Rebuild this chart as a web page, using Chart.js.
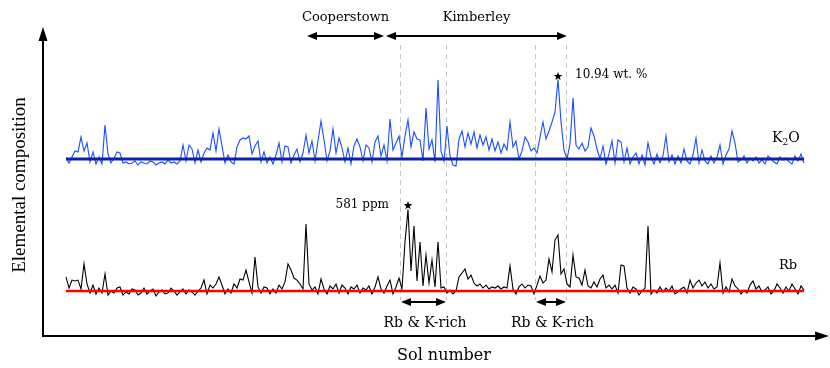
<!DOCTYPE html>
<html>
<head>
<meta charset="utf-8">
<script src="https://cdn.jsdelivr.net/npm/chart.js@4/dist/chart.umd.min.js"></script>
<style>
html, body { margin: 0; padding: 0; background: #fff; }
#wrap { width: 830px; height: 368px; }
</style>
</head>
<body>
<div id="wrap"><canvas id="chart" width="830" height="368"></canvas></div>
<script>
// one reading every third sol
var SOL_FIRST = 0;
var SOL_STEP = 3;

// K2O, wt. %
var k2o = [
  1.13,0.5,1.25,2.0,1.88,3.75,2.0,3.0,0.63,1.88,
  0.38,1.25,0.38,5.25,1.63,0.5,1.13,1.88,1.75,0.5,
  0.63,0.38,0.5,0.75,0.25,0.63,0.5,0.38,0.75,0.63,
  0.25,0.5,0.63,0.38,0.88,0.5,0.63,0.38,0.75,2.75,
  0.75,2.75,2.25,0.5,2.13,0.63,1.75,2.38,2.13,4.25,
  2.0,4.75,2.63,0.5,1.5,0.63,0.38,2.5,3.38,3.63,
  3.5,3.88,1.63,2.63,3.25,0.63,1.88,0.5,1.25,0.38,
  1.5,3.0,0.63,2.63,2.5,0.5,1.5,2.25,0.63,1.75,
  4.0,1.75,3.25,0.75,3.25,5.75,3.38,0.75,2.0,4.75,
  1.75,3.63,2.38,0.63,2.38,0.38,2.63,3.5,2.5,0.75,
  2.75,2.38,0.63,3.13,3.88,1.38,2.75,0.75,6.0,2.13,
  3.0,3.88,1.25,3.88,5.88,2.5,4.38,3.5,3.38,0.75,
  7.38,2.25,3.38,0.63,10.88,2.0,0.75,5.13,1.38,0.25,
  0.13,3.5,4.5,2.5,4.25,2.88,4.38,2.38,4.0,2.75,
  3.75,2.13,3.5,2.0,3.13,1.75,2.88,2.13,5.63,2.5,
  3.25,1.0,2.0,3.75,3.13,2.0,2.38,1.75,3.75,5.63,
  3.5,4.5,5.63,6.88,10.94,5.63,2.13,1.0,2.88,8.63,
  2.75,2.25,3.0,2.0,2.5,4.88,3.88,2.25,1.0,2.63,
  0.38,1.63,3.25,0.5,3.38,3.13,0.63,2.38,0.38,1.25,
  1.75,0.38,1.5,0.25,3.0,1.25,0.38,1.63,0.5,1.38,
  3.88,0.63,1.5,0.38,1.38,0.5,2.25,0.75,0.38,1.5,
  3.63,0.5,2.13,0.75,0.38,1.38,0.5,1.25,2.75,0.38,
  1.5,2.25,4.5,3.0,0.63,0.88,1.38,0.5,1.13,0.75,
  1.25,0.5,0.88,0.38,1.38,1.0,0.63,0.38,1.25,0.88,
  1.13,0.63,0.38,1.38,0.75,1.63,0.5
];

// Rb, ppm
var rb = [
  150,79,130,124,130,73,233,105,47,98,
  41,79,47,169,34,60,47,79,86,34,
  54,41,73,66,34,47,79,41,60,73,
  28,54,66,41,47,79,60,34,54,73,
  41,66,54,34,60,79,130,41,98,79,
  105,150,98,41,73,47,105,79,137,130,
  194,118,47,278,86,47,86,79,41,73,
  47,98,73,118,233,194,143,130,105,73,
  489,105,66,86,41,137,73,41,92,73,
  105,47,98,79,41,86,73,98,47,79,
  66,92,41,86,150,73,47,92,130,41,
  86,143,73,374,581,188,476,124,374,92,
  290,111,258,86,374,79,86,47,66,41,
  60,150,175,201,137,162,111,92,105,79,
  98,73,86,79,92,73,86,79,220,73,
  41,86,105,79,98,92,41,98,156,111,
  130,265,182,386,418,169,201,105,86,290,
  150,143,98,194,92,79,118,86,137,162,
  79,98,73,98,47,226,220,79,47,86,
  73,34,60,79,476,41,66,47,86,54,
  79,60,92,41,54,73,86,47,130,79,
  111,130,92,118,79,105,73,86,239,47,
  86,54,137,92,73,41,66,47,98,124,
  73,92,54,66,86,41,60,105,79,47,
  86,60,105,73,41,92,66
];

var K2O_MEAN = 1.0;
var RB_MEAN = 60;

// field campaigns along the traverse (sols)
var campaigns = [
  {name: 'Cooperstown', from: 241, to: 318},
  {name: 'Kimberley', from: 320, to: 501}
];
// Rb & K-rich intervals, also marked with dashed lines
var richZones = [[334, 380], [469, 500]];
var richLabel = 'Rb & K-rich';

var sols = k2o.map(function(v, i) { return SOL_FIRST + i * SOL_STEP; });

function toPoints(values) {
  return values.map(function(v, i) { return {x: sols[i], y: v}; });
}

function meanLine(value) {
  return [{x: sols[0], y: value}, {x: sols[sols.length - 1], y: value}];
}

function argMax(values) {
  var best = 0;
  for (var i = 1; i < values.length; i++) {
    if (values[i] > values[best]) best = i;
  }
  return best;
}

function star(ctx, cx, cy, r) {
  ctx.beginPath();
  for (var k = 0; k < 10; k++) {
    var rad = k % 2 ? r * 0.42 : r;
    var a = -Math.PI / 2 + k * Math.PI / 5;
    ctx.lineTo(cx + rad * Math.cos(a), cy + rad * Math.sin(a));
  }
  ctx.closePath();
  ctx.fill();
}

function arrowHead(ctx, tipX, tipY, dx, dy, len, half) {
  // dx, dy: unit direction the arrow points to
  ctx.beginPath();
  ctx.moveTo(tipX, tipY);
  ctx.lineTo(tipX - dx * len - dy * half, tipY - dy * len + dx * half);
  ctx.lineTo(tipX - dx * len + dy * half, tipY - dy * len - dx * half);
  ctx.closePath();
  ctx.fill();
}

function doubleArrow(ctx, x1, x2, y) {
  ctx.beginPath();
  ctx.moveTo(x1 + 6, y);
  ctx.lineTo(x2 - 6, y);
  ctx.stroke();
  arrowHead(ctx, x1, y, -1, 0, 10, 4);
  arrowHead(ctx, x2, y, 1, 0, 10, 4);
}

var SERIF = '"DejaVu Serif", serif';

var decorations = {
  id: 'decorations',
  beforeDatasetsDraw: function(chart) {
    var ctx = chart.ctx, xs = chart.scales.x;
    ctx.save();
    ctx.strokeStyle = '#c4c4c4';
    ctx.lineWidth = 1;
    ctx.setLineDash([5, 4]);
    richZones.forEach(function(z) {
      z.forEach(function(sol) {
        var px = Math.round(xs.getPixelForValue(sol)) + 0.5;
        ctx.beginPath();
        ctx.moveTo(px, 45);
        ctx.lineTo(px, 300);
        ctx.stroke();
      });
    });
    ctx.restore();
  },
  afterDraw: function(chart) {
    var ctx = chart.ctx, area = chart.chartArea;
    var xs = chart.scales.x, yK = chart.scales.yK, yRb = chart.scales.yRb;
    ctx.save();
    ctx.fillStyle = '#000';
    ctx.strokeStyle = '#000';

    // axes with arrow heads
    ctx.lineWidth = 2;
    ctx.beginPath();
    ctx.moveTo(area.left, 38);
    ctx.lineTo(area.left, area.bottom);
    ctx.lineTo(area.right - 2, area.bottom);
    ctx.stroke();
    arrowHead(ctx, area.left, 27, 0, -1, 14, 4.5);
    arrowHead(ctx, area.right + 4, area.bottom, 1, 0, 14, 4.5);

    // campaign arrows
    ctx.lineWidth = 2;
    ctx.font = '13px ' + SERIF;
    ctx.textAlign = 'center';
    campaigns.forEach(function(c) {
      var a = xs.getPixelForValue(c.from), b = xs.getPixelForValue(c.to);
      doubleArrow(ctx, a, b, 36);
      ctx.fillText(c.name, (a + b) / 2, 21);
    });

    // enriched zones
    ctx.font = '14px ' + SERIF;
    richZones.forEach(function(z) {
      var a = xs.getPixelForValue(z[0]), b = xs.getPixelForValue(z[1]);
      doubleArrow(ctx, a + 1, b, 302);
      ctx.fillText(richLabel, (a + b) / 2 + 2, 327);
    });

    // maxima
    var ik = argMax(k2o), ir = argMax(rb);
    var kx = xs.getPixelForValue(sols[ik]), ky = yK.getPixelForValue(k2o[ik]);
    var rx = xs.getPixelForValue(sols[ir]), ry = yRb.getPixelForValue(rb[ir]);
    star(ctx, kx, ky - 3, 4.5);
    star(ctx, rx, ry - 4, 4.5);
    ctx.font = '12px ' + SERIF;
    ctx.textAlign = 'left';
    ctx.fillText(k2o[ik].toFixed(2) + ' wt. %', kx + 17, ky - 1);
    ctx.textAlign = 'right';
    ctx.fillText(rb[ir] + ' ppm', rx - 19, ry - 2);

    // series names
    ctx.textAlign = 'left';
    ctx.font = '14px ' + SERIF;
    ctx.fillText('K', 772, 142);
    var kw = ctx.measureText('K').width;
    ctx.font = '9px ' + SERIF;
    ctx.fillText('2', 772 + kw, 145);
    var sw = ctx.measureText('2').width;
    ctx.font = '14px ' + SERIF;
    ctx.fillText('O', 772 + kw + sw, 142);
    ctx.font = '13px ' + SERIF;
    ctx.fillText('Rb', 779, 269);

    // axis titles
    ctx.textAlign = 'center';
    ctx.font = '16px ' + SERIF;
    ctx.fillText('Sol number', 444, 360);
    ctx.translate(20, 185);
    ctx.rotate(-Math.PI / 2);
    ctx.font = '19px "Liberation Serif", serif';
    ctx.textBaseline = 'middle';
    ctx.fillText('Elemental composition', 0, 0);
    ctx.restore();
  }
};

var chart = new Chart(document.getElementById('chart'), {
  type: 'line',
  data: {
    datasets: [
      {label: 'K2O mean', data: meanLine(K2O_MEAN), yAxisID: 'yK',
        borderColor: '#0b22a6', borderWidth: 3, pointRadius: 0, order: 0},
      {label: 'Rb mean', data: meanLine(RB_MEAN), yAxisID: 'yRb',
        borderColor: '#ff0000', borderWidth: 2.5, pointRadius: 0, order: 0},
      {label: 'K2O', data: toPoints(k2o), yAxisID: 'yK',
        borderColor: '#1a4dff', borderWidth: 1.1, pointRadius: 0, order: 1},
      {label: 'Rb', data: toPoints(rb), yAxisID: 'yRb',
        borderColor: '#000000', borderWidth: 1.1, pointRadius: 0, order: 1}
    ]
  },
  options: {
    responsive: false,
    animation: false,
    devicePixelRatio: 1,
    layout: {padding: {left: 43, right: 5, top: 25, bottom: 32}},
    plugins: {legend: {display: false}, tooltip: {enabled: false}},
    scales: {
      x: {type: 'linear', min: -23, max: 759, display: false},
      yK: {type: 'linear', min: -21.125, max: 17.75, display: false},
      yRb: {type: 'linear', min: -228, max: 1762.4, display: false}
    }
  },
  plugins: [decorations]
});
</script>
</body>
</html>
